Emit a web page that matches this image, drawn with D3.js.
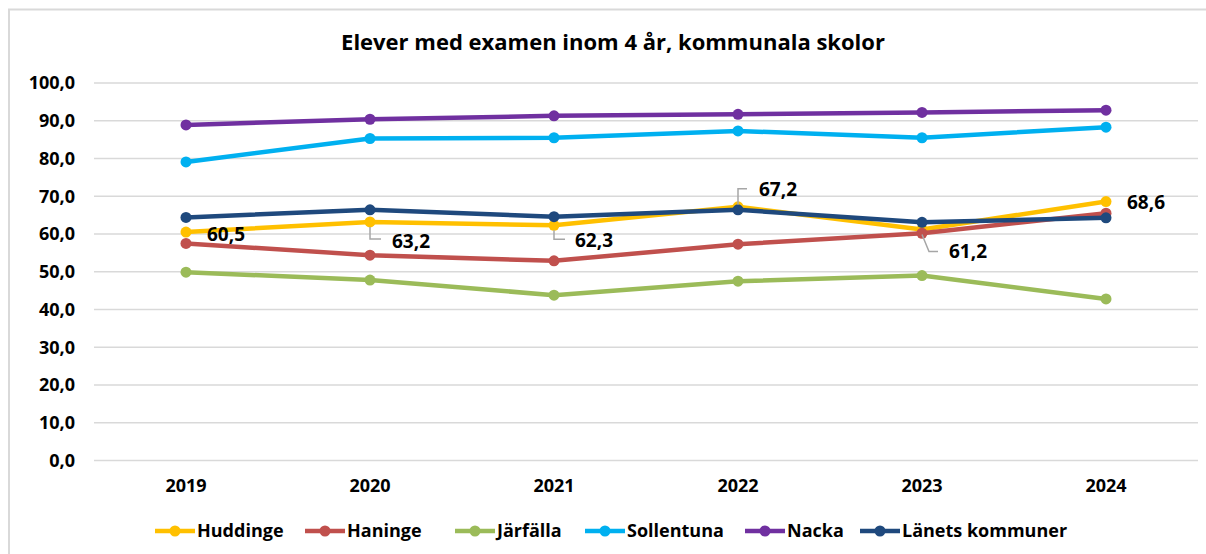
<!DOCTYPE html>
<meta charset="utf-8">
<script src="https://d3js.org/d3.v7.min.js"></script>
<style>
  body { margin: 0; background: #fff; }
  text { font-family: "Open Sans", sans-serif; font-weight: bold; fill: #000; }
</style>
<div id="chart"></div>
<script>

// data
var years = ["2019", "2020", "2021", "2022", "2023", "2024"];
var huddinge   = [60.5, 63.2, 62.3, 67.2, 61.2, 68.6];
var haninge    = [57.5, 54.4, 52.9, 57.3, 60.2, 65.5];
var jarfalla   = [49.9, 47.8, 43.8, 47.5, 49.0, 42.8];
var sollentuna = [79.1, 85.3, 85.5, 87.3, 85.5, 88.3];
var nacka      = [88.9, 90.4, 91.3, 91.7, 92.2, 92.8];
var lanets     = [64.4, 66.4, 64.6, 66.4, 63.1, 64.3];
var yTicks = [0, 10, 20, 30, 40, 50, 60, 70, 80, 90, 100];

var series = [
  {name: "Huddinge", values: huddinge, color: "#FFC000"},
  {name: "Haninge", values: haninge, color: "#C0504D"},
  {name: "Järfälla", values: jarfalla, color: "#9BBB59"},
  {name: "Sollentuna", values: sollentuna, color: "#00B0F0"},
  {name: "Nacka", values: nacka, color: "#7030A0"},
  {name: "Länets kommuner", values: lanets, color: "#1F497D"}
];

var width = 1206, height = 554;
var plot = {left: 94, right: 1198, top: 83, bottom: 460.5};

var svg = d3.select("#chart")
  .append("svg")
    .attr("width", width)
    .attr("height", height);

// chart frame
svg.append("rect")
  .attr("x", 9).attr("y", 9.5)
  .attr("width", 1220).attr("height", 600)
  .attr("fill", "none")
  .attr("stroke", "#d9d9d9")
  .attr("stroke-width", 2);

svg.append("text")
  .attr("x", 613).attr("y", 50)
  .attr("text-anchor", "middle")
  .style("font-size", "22px")
  .text("Elever med examen inom 4 år, kommunala skolor");

var x = d3.scaleBand()
  .domain(years)
  .range([plot.left, plot.right]);

var y = d3.scaleLinear()
  .domain([0, 100])
  .range([plot.bottom, plot.top]);

// gridlines
svg.append("g")
  .selectAll("line")
  .data(yTicks)
  .enter().append("line")
    .attr("x1", plot.left).attr("x2", plot.right)
    .attr("y1", function(d) { return y(d); })
    .attr("y2", function(d) { return y(d); })
    .attr("stroke", "#d9d9d9")
    .attr("stroke-width", 1.5);

// y axis
var yAxis = svg.append("g")
  .attr("transform", "translate(" + (plot.left - 19) + ",0)")
  .call(d3.axisLeft(y).tickValues(yTicks).tickSize(0).tickPadding(0)
    .tickFormat(function(d) { return d3.format(".1f")(d).replace(".", ","); }));
yAxis.select(".domain").remove();
yAxis.selectAll("text").style("font-size", "18px").style("font-family", "'Open Sans', sans-serif");

// x axis
var xAxis = svg.append("g")
  .attr("transform", "translate(0," + (plot.bottom + 19) + ")")
  .call(d3.axisBottom(x).tickSize(0).tickPadding(0));
xAxis.select(".domain").remove();
xAxis.selectAll("text").style("font-size", "18px").style("font-family", "'Open Sans', sans-serif");

var line = d3.line()
  .x(function(d, i) { return x(years[i]) + x.bandwidth() / 2; })
  .y(function(d) { return y(d); });

series.forEach(function(s) {
  var g = svg.append("g");
  g.append("path")
    .datum(s.values)
    .attr("fill", "none")
    .attr("stroke", s.color)
    .attr("stroke-width", 4.5)
    .attr("stroke-linejoin", "round")
    .attr("d", line);
  g.selectAll("circle")
    .data(s.values)
    .enter().append("circle")
      .attr("cx", function(d, i) { return x(years[i]) + x.bandwidth() / 2; })
      .attr("cy", function(d) { return y(d); })
      .attr("r", 5.5)
      .attr("fill", s.color);
});

// data labels for Huddinge, with leader lines where Excel moved them
var labelOffsets = [
  {dx: 21, dy: 2, leader: null},
  {dx: 22, dy: 19, leader: [[0, 5], [0, 17], [11, 17]]},
  {dx: 21, dy: 15, leader: [[0, 5], [0, 14], [11, 14]]},
  {dx: 21, dy: -17, leader: [[0, -2], [0, -18], [9, -18]]},
  {dx: 27, dy: 22, leader: [[0, 5], [7, 22], [16, 22]]},
  {dx: 21, dy: 1, leader: null}
];
var cx = function(i) { return x(years[i]) + x.bandwidth() / 2; };
huddinge.forEach(function(v, i) {
  var o = labelOffsets[i];
  if (o.leader) {
    svg.append("path")
      .attr("d", d3.line()(o.leader.map(function(p) { return [cx(i) + p[0], y(v) + p[1]]; })))
      .attr("fill", "none")
      .attr("stroke", "#a6a6a6")
      .attr("stroke-width", 1.5);
  }
  svg.append("text")
    .attr("x", cx(i) + o.dx)
    .attr("y", y(v) + o.dy)
    .attr("dy", "0.35em")
    .style("font-size", "19px")
    .text(d3.format(".1f")(v).replace(".", ","));
});

// legend
var legendX = [155, 305, 455, 585, 745, 860];
var legend = svg.append("g").attr("transform", "translate(0,531)");
series.forEach(function(s, i) {
  var g = legend.append("g").attr("transform", "translate(" + legendX[i] + ",0)");
  g.append("line")
    .attr("x1", 0).attr("x2", 40)
    .attr("stroke", s.color).attr("stroke-width", 4.5);
  g.append("circle").attr("cx", 20).attr("r", 5.5).attr("fill", s.color);
  g.append("text")
    .attr("x", 42).attr("dy", "0.35em")
    .style("font-size", "18px")
    .text(s.name);
});

</script>
